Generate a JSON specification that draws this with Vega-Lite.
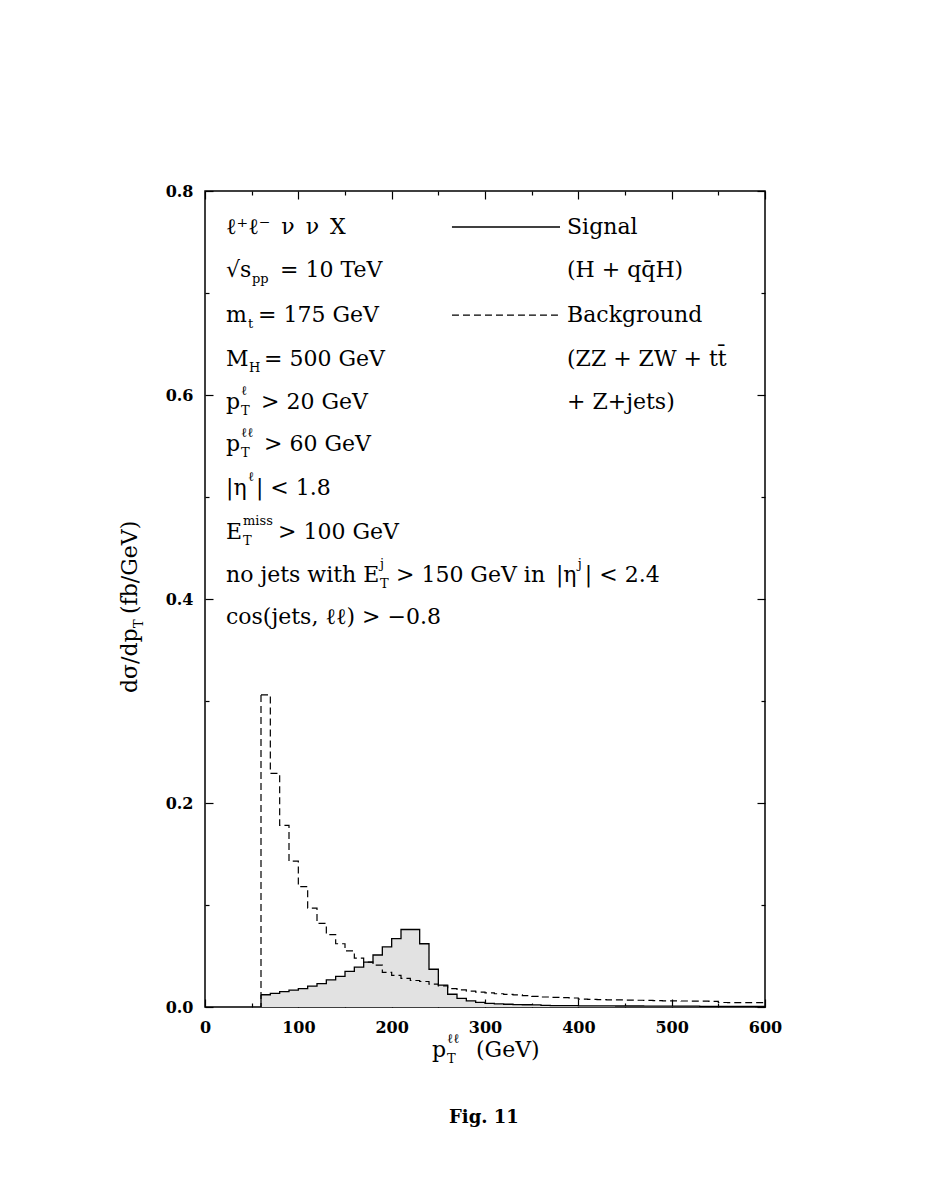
{
  "$schema": "https://vega.github.io/schema/vega-lite/v6.json",
  "width": 560,
  "height": 816,
  "autosize": {"type": "none"},
  "padding": {"left": 205, "top": 191, "right": 162, "bottom": 192},
  "background": "white",
  "config": {
    "view": {"stroke": "black", "strokeWidth": 1.5},
    "axis": {"grid": false, "domain": false, "tickColor": "black", "tickWidth": 1.2, "labelColor": "black", "labelFont": "DejaVu Serif", "labelFontSize": 16, "labelFontWeight": "bold", "labelFlush": false, "labelOverlap": false, "zindex": 1}
  },
  "datasets": {
    "hist": [
      {"lo": 60, "hi": 70, "sig": 0.012, "bkg": 0.306},
      {"lo": 70, "hi": 80, "sig": 0.0133, "bkg": 0.229},
      {"lo": 80, "hi": 90, "sig": 0.015, "bkg": 0.178},
      {"lo": 90, "hi": 100, "sig": 0.0165, "bkg": 0.143},
      {"lo": 100, "hi": 110, "sig": 0.018, "bkg": 0.118},
      {"lo": 110, "hi": 120, "sig": 0.0205, "bkg": 0.097},
      {"lo": 120, "hi": 130, "sig": 0.023, "bkg": 0.082},
      {"lo": 130, "hi": 140, "sig": 0.0265, "bkg": 0.071},
      {"lo": 140, "hi": 150, "sig": 0.030, "bkg": 0.062},
      {"lo": 150, "hi": 160, "sig": 0.035, "bkg": 0.055},
      {"lo": 160, "hi": 170, "sig": 0.039, "bkg": 0.048},
      {"lo": 170, "hi": 180, "sig": 0.044, "bkg": 0.044},
      {"lo": 180, "hi": 190, "sig": 0.051, "bkg": 0.041},
      {"lo": 190, "hi": 200, "sig": 0.059, "bkg": 0.034},
      {"lo": 200, "hi": 210, "sig": 0.067, "bkg": 0.031},
      {"lo": 210, "hi": 220, "sig": 0.076, "bkg": 0.028},
      {"lo": 220, "hi": 230, "sig": 0.076, "bkg": 0.026},
      {"lo": 230, "hi": 240, "sig": 0.062, "bkg": 0.025},
      {"lo": 240, "hi": 250, "sig": 0.037, "bkg": 0.0225},
      {"lo": 250, "hi": 260, "sig": 0.0215, "bkg": 0.0208},
      {"lo": 260, "hi": 270, "sig": 0.0125, "bkg": 0.018},
      {"lo": 270, "hi": 280, "sig": 0.0085, "bkg": 0.0167},
      {"lo": 280, "hi": 290, "sig": 0.006, "bkg": 0.0155},
      {"lo": 290, "hi": 300, "sig": 0.0046, "bkg": 0.0145},
      {"lo": 300, "hi": 310, "sig": 0.0036, "bkg": 0.0138},
      {"lo": 310, "hi": 320, "sig": 0.003, "bkg": 0.013},
      {"lo": 320, "hi": 330, "sig": 0.0027, "bkg": 0.0124},
      {"lo": 330, "hi": 340, "sig": 0.0024, "bkg": 0.0118},
      {"lo": 340, "hi": 350, "sig": 0.0022, "bkg": 0.0112},
      {"lo": 350, "hi": 360, "sig": 0.002, "bkg": 0.0105},
      {"lo": 360, "hi": 370, "sig": 0.0015, "bkg": 0.0098},
      {"lo": 370, "hi": 380, "sig": 0.0014, "bkg": 0.0094},
      {"lo": 380, "hi": 390, "sig": 0.0013, "bkg": 0.0091},
      {"lo": 390, "hi": 400, "sig": 0.0013, "bkg": 0.0088},
      {"lo": 400, "hi": 410, "sig": 0.0012, "bkg": 0.0078},
      {"lo": 410, "hi": 420, "sig": 0.0012, "bkg": 0.0074},
      {"lo": 420, "hi": 430, "sig": 0.0011, "bkg": 0.0072},
      {"lo": 430, "hi": 440, "sig": 0.0011, "bkg": 0.0070},
      {"lo": 440, "hi": 450, "sig": 0.001, "bkg": 0.0069},
      {"lo": 450, "hi": 460, "sig": 0.001, "bkg": 0.0068},
      {"lo": 460, "hi": 470, "sig": 0.001, "bkg": 0.0066},
      {"lo": 470, "hi": 480, "sig": 0.0009, "bkg": 0.0064},
      {"lo": 480, "hi": 490, "sig": 0.0009, "bkg": 0.0062},
      {"lo": 490, "hi": 500, "sig": 0.0009, "bkg": 0.0061},
      {"lo": 500, "hi": 510, "sig": 0.0008, "bkg": 0.006},
      {"lo": 510, "hi": 520, "sig": 0.0008, "bkg": 0.0059},
      {"lo": 520, "hi": 530, "sig": 0.0008, "bkg": 0.0058},
      {"lo": 530, "hi": 540, "sig": 0.0007, "bkg": 0.0057},
      {"lo": 540, "hi": 550, "sig": 0.0007, "bkg": 0.0056},
      {"lo": 550, "hi": 560, "sig": 0.0007, "bkg": 0.0044},
      {"lo": 560, "hi": 570, "sig": 0.0006, "bkg": 0.0043},
      {"lo": 570, "hi": 580, "sig": 0.0006, "bkg": 0.0043},
      {"lo": 580, "hi": 590, "sig": 0.0006, "bkg": 0.0042},
      {"lo": 590, "hi": 600, "sig": 0.0005, "bkg": 0.0042}
    ],
    "main": [
      {"t": "ℓ⁺ℓ⁻\u2002ν\u2002ν\u2002X", "x": 22.5, "y": 0.7647},
      {"t": "√s", "x": 22.5, "y": 0.7225},
      {"t": "= 10 TeV", "x": 80.4, "y": 0.7225},
      {"t": "m", "x": 22.5, "y": 0.6784},
      {"t": "= 175 GeV", "x": 56.8, "y": 0.6784},
      {"t": "M", "x": 22.5, "y": 0.6353},
      {"t": "= 500 GeV", "x": 63.2, "y": 0.6353},
      {"t": "p", "x": 22.5, "y": 0.5931},
      {"t": "> 20 GeV", "x": 60, "y": 0.5931},
      {"t": "p", "x": 22.5, "y": 0.552},
      {"t": "> 60 GeV", "x": 63.2, "y": 0.552},
      {"t": "|η", "x": 22.5, "y": 0.5088},
      {"t": "| < 1.8", "x": 54.6, "y": 0.5088},
      {"t": "E", "x": 22.5, "y": 0.4657},
      {"t": "> 100 GeV", "x": 78.2, "y": 0.4657},
      {"t": "no jets with E", "x": 22.5, "y": 0.4235},
      {"t": "> 150 GeV in", "x": 204.6, "y": 0.4235},
      {"t": "|η", "x": 376, "y": 0.4235},
      {"t": "| < 2.4", "x": 407, "y": 0.4235},
      {"t": "cos(jets, ℓℓ) > −0.8", "x": 22.5, "y": 0.3824},
      {"t": "Signal", "x": 387.9, "y": 0.7647},
      {"t": "(H + qq̄H)", "x": 387.9, "y": 0.7225},
      {"t": "Background", "x": 387.9, "y": 0.6784},
      {"t": "(ZZ + ZW + tt̄", "x": 387.9, "y": 0.6353},
      {"t": "+ Z+jets)", "x": 387.9, "y": 0.5931},
      {"t": "p", "x": 243.2, "y": -0.0422},
      {"t": "(GeV)", "x": 290.4, "y": -0.0422}
    ],
    "sub": [
      {"t": "pp", "x": 50.4, "y": 0.7225},
      {"t": "t", "x": 46.1, "y": 0.6784},
      {"t": "H", "x": 47.1, "y": 0.6353},
      {"t": "T", "x": 38.6, "y": 0.5931},
      {"t": "T", "x": 38.6, "y": 0.552},
      {"t": "T", "x": 40.7, "y": 0.4657},
      {"t": "T", "x": 187.5, "y": 0.4235},
      {"t": "T", "x": 259.3, "y": -0.0422}
    ],
    "sup": [
      {"t": "ℓ", "x": 38.6, "y": 0.5931},
      {"t": "ℓℓ", "x": 38.6, "y": 0.552},
      {"t": "ℓ", "x": 46.1, "y": 0.5088},
      {"t": "miss", "x": 40.7, "y": 0.4657},
      {"t": "j", "x": 187.5, "y": 0.4235},
      {"t": "j", "x": 399.5, "y": 0.4235},
      {"t": "ℓℓ", "x": 259.3, "y": -0.0422}
    ],
    "ytitle": [
      {"t": "dσ/dp", "x": -80.4, "y": 0.3078},
      {"t": "(fb/GeV)", "x": -80.4, "y": 0.3853}
    ],
    "ysub": [
      {"t": "T", "x": -80.4, "y": 0.3716}
    ],
    "cap": [
      {"t": "Fig. 11", "x": 298.9, "y": -0.1088}
    ],
    "legend": [
      {"series": "Signal", "x1": 264.6, "x2": 380.4, "y": 0.7647},
      {"series": "Background", "x1": 264.6, "x2": 380.4, "y": 0.6784}
    ]
  },
  "resolve": {"axis": {"x": "independent", "y": "independent"}},
  "layer": [
    {
      "data": {"name": "hist"},
      "transform": [{"fold": ["lo", "hi"], "as": ["edge", "x"]}],
      "mark": {"type": "area", "fill": "#e2e2e2", "opacity": 1},
      "encoding": {
        "x": {"field": "x", "type": "quantitative", "scale": {"domain": [0, 600], "nice": false, "zero": false},
              "axis": {"orient": "bottom", "values": [0, 100, 200, 300, 400, 500, 600], "tickSize": -8, "labelPadding": 20, "title": null}},
        "y": {"field": "sig", "type": "quantitative", "stack": null, "scale": {"domain": [0, 0.8], "nice": false},
              "axis": {"orient": "left", "values": [0, 0.2, 0.4, 0.6, 0.8], "format": ".1f", "tickSize": -8, "labelPadding": 20, "title": null}},
        "order": [{"field": "x", "type": "quantitative"}, {"field": "edge", "type": "ordinal"}]
      }
    },
    {
      "data": {"name": "hist"},
      "transform": [{"fold": ["lo", "hi"], "as": ["edge", "x"]}],
      "mark": {"type": "line", "stroke": "black", "strokeWidth": 1.3},
      "encoding": {
        "x": {"field": "x", "type": "quantitative", "scale": {"domain": [0, 600], "nice": false, "zero": false},
              "axis": {"orient": "bottom", "values": [50, 150, 250, 350, 450, 550], "tickSize": -4, "labels": false, "title": null}},
        "y": {"field": "sig", "type": "quantitative", "scale": {"domain": [0, 0.8], "nice": false},
              "axis": {"orient": "left", "values": [0.1, 0.3, 0.5, 0.7], "tickSize": -4, "labels": false, "title": null}},
        "order": [{"field": "x", "type": "quantitative"}, {"field": "edge", "type": "ordinal"}]
      }
    },
    {
      "data": {"name": "hist"},
      "transform": [{"fold": ["lo", "hi"], "as": ["edge", "x"]}],
      "mark": {"type": "line", "stroke": "black", "strokeWidth": 1.2, "strokeDash": [7, 4]},
      "encoding": {
        "x": {"field": "x", "type": "quantitative", "scale": {"domain": [0, 600], "nice": false, "zero": false},
              "axis": {"orient": "top", "values": [0, 100, 200, 300, 400, 500, 600], "tickSize": -8, "labels": false, "title": null}},
        "y": {"field": "bkg", "type": "quantitative", "scale": {"domain": [0, 0.8], "nice": false},
              "axis": {"orient": "right", "values": [0, 0.2, 0.4, 0.6, 0.8], "tickSize": -8, "labels": false, "title": null}},
        "order": [{"field": "x", "type": "quantitative"}, {"field": "edge", "type": "ordinal"}]
      }
    },
    {
      "data": {"name": "hist"},
      "transform": [{"filter": "datum.lo == 60"}],
      "mark": {"type": "rule", "stroke": "black", "strokeWidth": 1.2, "strokeDash": [7, 4]},
      "encoding": {
        "x": {"field": "lo", "type": "quantitative", "scale": {"domain": [0, 600], "nice": false, "zero": false},
              "axis": {"orient": "top", "values": [50, 150, 250, 350, 450, 550], "tickSize": -4, "labels": false, "title": null}},
        "y": {"field": "bkg", "type": "quantitative", "scale": {"domain": [0, 0.8], "nice": false},
              "axis": {"orient": "right", "values": [0.1, 0.3, 0.5, 0.7], "tickSize": -4, "labels": false, "title": null}},
        "y2": {"datum": 0}
      }
    },
    {
      "data": {"name": "hist"},
      "transform": [{"filter": "datum.lo == 60"}],
      "mark": {"type": "rule", "stroke": "black", "strokeWidth": 1.3},
      "encoding": {
        "x": {"field": "lo", "type": "quantitative", "scale": {"domain": [0, 600], "nice": false, "zero": false}, "axis": null},
        "y": {"field": "sig", "type": "quantitative", "scale": {"domain": [0, 0.8], "nice": false}, "axis": null},
        "y2": {"datum": 0}
      }
    },
    {
      "data": {"name": "legend"},
      "mark": {"type": "rule", "stroke": "black", "strokeWidth": 1.3},
      "transform": [{"filter": "datum.series == 'Signal'"}],
      "encoding": {
        "x": {"field": "x1", "type": "quantitative", "scale": {"domain": [0, 600], "nice": false, "zero": false}, "axis": null},
        "x2": {"field": "x2"},
        "y": {"field": "y", "type": "quantitative", "scale": {"domain": [0, 0.8], "nice": false}, "axis": null}
      }
    },
    {
      "data": {"name": "legend"},
      "mark": {"type": "rule", "stroke": "black", "strokeWidth": 1.2, "strokeDash": [7, 4]},
      "transform": [{"filter": "datum.series == 'Background'"}],
      "encoding": {
        "x": {"field": "x1", "type": "quantitative", "scale": {"domain": [0, 600], "nice": false, "zero": false}, "axis": null},
        "x2": {"field": "x2"},
        "y": {"field": "y", "type": "quantitative", "scale": {"domain": [0, 0.8], "nice": false}, "axis": null}
      }
    },
    {
      "data": {"name": "main"},
      "mark": {"type": "text", "align": "left", "baseline": "middle", "font": "DejaVu Serif", "fontSize": 22, "fill": "black"},
      "encoding": {
        "x": {"field": "x", "type": "quantitative", "scale": {"domain": [0, 600], "nice": false, "zero": false}, "axis": null},
        "y": {"field": "y", "type": "quantitative", "scale": {"domain": [0, 0.8], "nice": false}, "axis": null},
        "text": {"field": "t"}
      }
    },
    {
      "data": {"name": "sub"},
      "mark": {"type": "text", "align": "left", "baseline": "middle", "font": "DejaVu Serif", "fontSize": 13, "dy": 9, "fill": "black"},
      "encoding": {
        "x": {"field": "x", "type": "quantitative", "scale": {"domain": [0, 600], "nice": false, "zero": false}, "axis": null},
        "y": {"field": "y", "type": "quantitative", "scale": {"domain": [0, 0.8], "nice": false}, "axis": null},
        "text": {"field": "t"}
      }
    },
    {
      "data": {"name": "sup"},
      "mark": {"type": "text", "align": "left", "baseline": "middle", "font": "DejaVu Serif", "fontSize": 13, "dy": -11, "fill": "black"},
      "encoding": {
        "x": {"field": "x", "type": "quantitative", "scale": {"domain": [0, 600], "nice": false, "zero": false}, "axis": null},
        "y": {"field": "y", "type": "quantitative", "scale": {"domain": [0, 0.8], "nice": false}, "axis": null},
        "text": {"field": "t"}
      }
    },
    {
      "data": {"name": "ytitle"},
      "mark": {"type": "text", "align": "left", "baseline": "middle", "angle": 270, "font": "DejaVu Serif", "fontSize": 22, "fill": "black"},
      "encoding": {
        "x": {"field": "x", "type": "quantitative", "scale": {"domain": [0, 600], "nice": false, "zero": false}, "axis": null},
        "y": {"field": "y", "type": "quantitative", "scale": {"domain": [0, 0.8], "nice": false}, "axis": null},
        "text": {"field": "t"}
      }
    },
    {
      "data": {"name": "ysub"},
      "mark": {"type": "text", "align": "left", "baseline": "middle", "angle": 270, "dy": 9, "font": "DejaVu Serif", "fontSize": 13, "fill": "black"},
      "encoding": {
        "x": {"field": "x", "type": "quantitative", "scale": {"domain": [0, 600], "nice": false, "zero": false}, "axis": null},
        "y": {"field": "y", "type": "quantitative", "scale": {"domain": [0, 0.8], "nice": false}, "axis": null},
        "text": {"field": "t"}
      }
    },
    {
      "data": {"name": "cap"},
      "mark": {"type": "text", "align": "center", "baseline": "middle", "font": "DejaVu Serif", "fontSize": 18, "fontWeight": "bold", "fill": "black"},
      "encoding": {
        "x": {"field": "x", "type": "quantitative", "scale": {"domain": [0, 600], "nice": false, "zero": false}, "axis": null},
        "y": {"field": "y", "type": "quantitative", "scale": {"domain": [0, 0.8], "nice": false}, "axis": null},
        "text": {"field": "t"}
      }
    }
  ]
}
